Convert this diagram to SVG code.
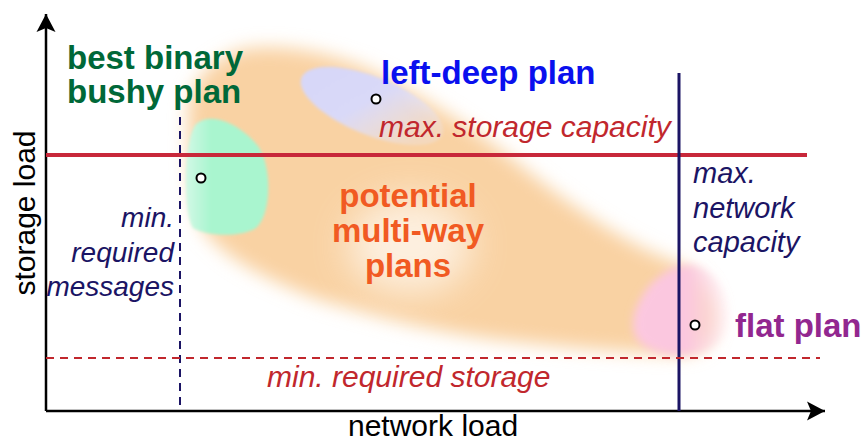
<svg xmlns="http://www.w3.org/2000/svg" width="865" height="444" viewBox="0 0 865 444">
<defs>
<style>
.bold{font-family:"Liberation Sans",Arial,sans-serif;font-weight:bold;font-size:33px}
.ital{font-family:"Liberation Sans",Arial,sans-serif;font-style:italic;font-size:29px}
.reg{font-family:"Liberation Sans",Arial,sans-serif;font-size:30px;fill:#000}
.dot{fill:#fff;stroke:#000;stroke-width:2}
</style>
<filter id="blurL" x="-20%" y="-20%" width="140%" height="140%"><feGaussianBlur stdDeviation="9"/></filter>
<filter id="blurM" x="-30%" y="-30%" width="160%" height="160%"><feGaussianBlur stdDeviation="4"/></filter>
<filter id="blurS" x="-30%" y="-30%" width="160%" height="160%"><feGaussianBlur stdDeviation="1.5"/></filter>
<filter id="blurG" x="-50%" y="-50%" width="200%" height="200%"><feGaussianBlur stdDeviation="18"/></filter>
<linearGradient id="gBlue" x1="0" y1="0" x2="1" y2="0.3">
<stop offset="0" stop-color="#d6d6f8"/><stop offset="0.55" stop-color="#d9d9f8"/><stop offset="1" stop-color="#e6e6fa" stop-opacity="0.3"/>
</linearGradient>
<linearGradient id="gGreen" x1="0" y1="0" x2="1" y2="0">
<stop offset="0" stop-color="#d2f9e6"/><stop offset="0.3" stop-color="#a9f5cf"/><stop offset="1" stop-color="#a9f5cf"/>
</linearGradient>
<linearGradient id="gPink" x1="0" y1="0" x2="1" y2="0">
<stop offset="0" stop-color="#fcc8e0"/><stop offset="0.55" stop-color="#fbc6df"/><stop offset="1" stop-color="#fde0ee" stop-opacity="0.3"/>
</linearGradient>
<marker id="arr" viewBox="0 0 20 20" refX="18" refY="10" markerWidth="20" markerHeight="20" markerUnits="userSpaceOnUse" orient="auto">
<path d="M18,10 L0,0.5 L4,10 L0,19.5 Z" fill="#000"/>
</marker>
</defs>
<rect width="865" height="444" fill="#fff"/>

<g id="region-multiway">
<path d="M188,120 C186,90 205,62 240,50 C275,42 330,52 370,70 C420,95 470,125 520,165 C570,205 620,240 665,258 C700,270 718,295 715,325 C712,345 700,354 675,354 C620,352 560,347 500,340 C440,333 380,318 320,300 C270,282 225,258 205,232 C190,210 189,160 188,120 Z" fill="#f9d2a3" filter="url(#blurL)"/>
<ellipse cx="410" cy="245" rx="62" ry="48" fill="#fff" opacity="0.65" filter="url(#blurG)"/>
<text class="bold" fill="#f15a22" text-anchor="middle" x="408" y="207">potential</text>
<text class="bold" fill="#f15a22" text-anchor="middle" x="408" y="242">multi-way</text>
<text class="bold" fill="#f15a22" text-anchor="middle" x="408" y="277">plans</text>
</g>

<g id="plan-leftdeep">
<ellipse cx="372" cy="106" rx="76" ry="29" transform="rotate(22 372 106)" fill="url(#gBlue)" filter="url(#blurS)"/>
<circle class="dot" cx="376" cy="99" r="4.5"/>
<text class="bold" fill="#0a10ee" x="381" y="84">left-deep plan</text>
</g>

<g id="plan-bushy">
<path d="M196,124 C212,110 242,126 258,146 C272,166 272,214 256,228 C240,238 206,236 193,228 C183,214 183,140 196,124 Z" fill="url(#gGreen)" filter="url(#blurS)"/>
<circle class="dot" cx="201" cy="178" r="4.5"/>
<text class="bold" fill="#006838" x="67" y="69">best binary</text>
<text class="bold" fill="#006838" x="67" y="103">bushy plan</text>
</g>

<g id="plan-flat">
<path d="M640,300 C650,280 670,265 690,265 C715,268 730,295 728,320 C725,345 705,355 680,355 C655,355 632,345 633,325 C633,315 636,307 640,300 Z" fill="url(#gPink)" filter="url(#blurM)"/>
<circle class="dot" cx="695" cy="325" r="4.5"/>
<text class="bold" fill="#92278f" x="735" y="337">flat plan</text>
</g>

<g id="connectors" fill="none">
<line x1="46" y1="411" x2="46" y2="14" stroke="#000" stroke-width="2.5" marker-end="url(#arr)"/>
<line x1="46" y1="411" x2="825" y2="411" stroke="#000" stroke-width="2.5" marker-end="url(#arr)"/>
<line x1="46" y1="155" x2="807" y2="155" stroke="#c8283a" stroke-width="4"/>
<line x1="679" y1="73" x2="679" y2="411" stroke="#1b1464" stroke-width="3"/>
<line x1="180" y1="117" x2="180" y2="411" stroke="#1b1464" stroke-width="2" stroke-dasharray="8 6"/>
<line x1="46" y1="358" x2="820" y2="358" stroke="#c1272d" stroke-width="2" stroke-dasharray="8 6"/>
</g>

<g id="labels">
<text class="ital" fill="#c1272d" x="379" y="137" style="font-size:30px">max. storage capacity</text>
<text class="ital" fill="#c1272d" x="267" y="387" style="font-size:30px">min. required storage</text>
<text class="ital" fill="#1b1464" text-anchor="end" x="174" y="227" style="font-size:28px">min.</text>
<text class="ital" fill="#1b1464" text-anchor="end" x="174" y="262" style="font-size:28px">required</text>
<text class="ital" fill="#1b1464" text-anchor="end" x="174" y="296" style="font-size:28px">messages</text>
<text class="ital" fill="#1b1464" x="693" y="183">max.</text>
<text class="ital" fill="#1b1464" x="693" y="218">network</text>
<text class="ital" fill="#1b1464" x="693" y="252">capacity</text>
<text class="reg" x="348" y="436">network load</text>
<text class="reg" text-anchor="middle" transform="translate(35 213) rotate(-90)">storage load</text>
</g>
</svg>
